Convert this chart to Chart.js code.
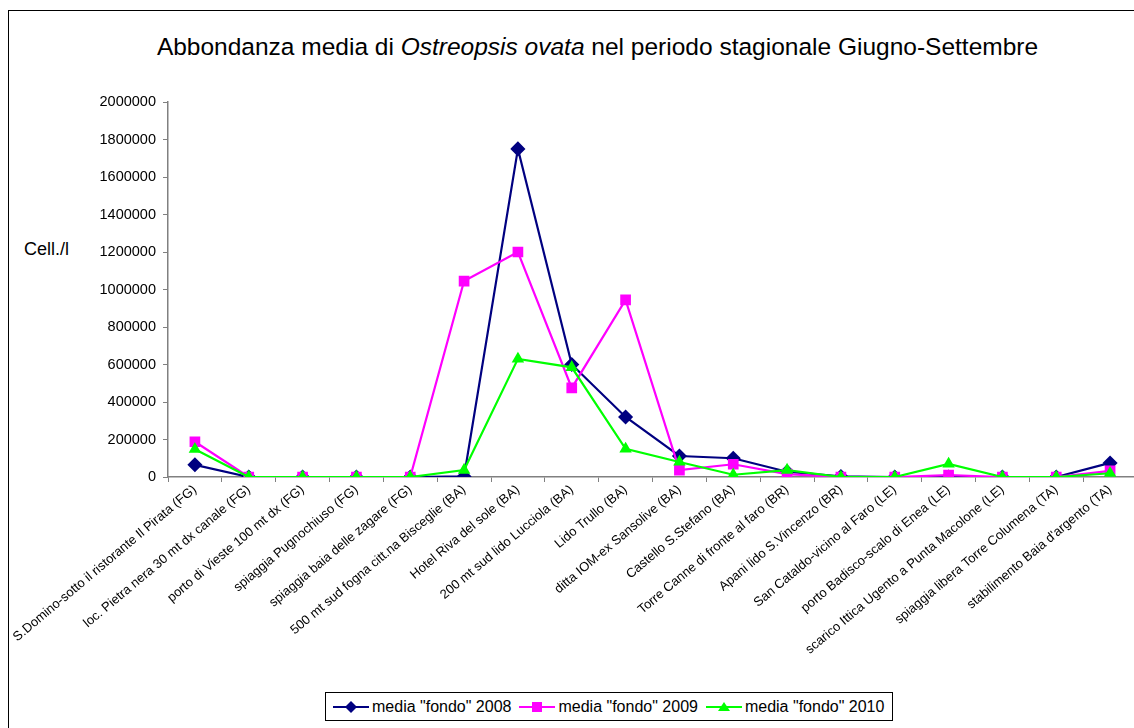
<!DOCTYPE html>
<html>
<head>
<meta charset="utf-8">
<script src="https://cdn.jsdelivr.net/npm/chart.js@4/dist/chart.umd.min.js"></script>
<style>
  html, body { margin: 0; padding: 0; background: #fff; overflow: hidden; }
  body { width: 1134px; height: 728px; position: relative; font-family: "Liberation Sans", Arial, sans-serif; }
  #frame { position: absolute; left: 8px; top: 10px; width: 1200px; height: 800px; border: 1px solid #000; box-sizing: border-box; }
  #title { position: absolute; left: 0; top: 33px; width: 1195px; text-align: center; font-size: 24.5px; color: #000; white-space: nowrap; }
  #ylab { position: absolute; left: 24px; top: 239px; font-size: 18px; color: #000; }
  #wrap { position: absolute; left: 0; top: 0; width: 1150px; height: 728px; }
  #legend { position: absolute; left: 325px; top: 692px; height: 29px; border: 1px solid #000; box-sizing: border-box;
            display: flex; align-items: center; padding: 0 0 0 7px; font-size: 16px; background: #fff; white-space: nowrap; }
  .item { display: flex; align-items: center; margin-right: 8px; }
  .item svg { margin-right: 3px; }
</style>
</head>
<body>
<div id="frame"></div>
<div id="title">Abbondanza media di <i>Ostreopsis ovata</i> nel periodo stagionale Giugno-Settembre</div>
<div id="ylab">Cell./l</div>
<div id="wrap"><canvas id="chart"></canvas></div>
<div id="legend"></div>
<script>
const stations = [
    'S.Domino-sotto il ristorante Il Pirata (FG)',
    'loc. Pietra nera 30 mt dx canale (FG)',
    'porto di Vieste 100 mt dx (FG)',
    'spiaggia Pugnochiuso (FG)',
    'spiaggia baia delle zagare (FG)',
    '500 mt sud fogna citt.na Bisceglie (BA)',
    'Hotel Riva del sole (BA)',
    '200 mt sud lido Lucciola (BA)',
    'Lido Trullo (BA)',
    'ditta IOM-ex Sansolive (BA)',
    'Castello S.Stefano (BA)',
    'Torre Canne di fronte al faro (BR)',
    'Apani lido S.Vincenzo (BR)',
    'San Cataldo-vicino al Faro (LE)',
    'porto Badisco-scalo di Enea (LE)',
    'scarico Ittica Ugento a Punta Macolone (LE)',
    'spiaggia libera Torre Columena (TA)',
    "stabilimento Baia d'argento (TA)"
];

const fondo2008 = [65000, 0, 0, 0, 0, 3000, 1750000, 600000, 320000, 112000, 100000, 28000, 3000, 0, 0, 0, 0, 75000];
const fondo2009 = [188000, 0, 0, 0, 0, 1045000, 1200000, 475000, 945000, 37000, 68000, 15000, 0, 0, 10000, 0, 0, 33000];
const fondo2010 = [148000, 0, 0, 0, 0, 37000, 630000, 585000, 150000, 80000, 12000, 37000, 0, 0, 70000, 0, 0, 20000];

const yTicks = [0, 200000, 400000, 600000, 800000, 1000000, 1200000, 1400000, 1600000, 1800000, 2000000];

const series = [
    { label: 'media "fondo" 2008', data: fondo2008, color: '#000080', style: 'rectRot', radius: 6, order: 2 },
    { label: 'media "fondo" 2009', data: fondo2009, color: '#FF00FF', style: 'rect', radius: 6, order: 1 },
    { label: 'media "fondo" 2010', data: fondo2010, color: '#00FF00', style: 'triangle', radius: 5, order: 0 }
];

const axisColor = '#808080';
const font = { family: '"Liberation Sans", Arial, sans-serif' };

const ctx = document.getElementById('chart').getContext('2d');
new Chart(ctx, {
    type: 'line',
    data: {
        labels: stations,
        datasets: series.map(s => ({
            label: s.label,
            data: s.data,
            borderColor: s.color,
            backgroundColor: s.color,
            pointBackgroundColor: s.color,
            pointBorderColor: s.color,
            pointStyle: s.style,
            pointRadius: s.radius,
            borderWidth: 2.2,
            tension: 0,
            order: s.order
        }))
    },
    options: {
        responsive: true,
        maintainAspectRatio: false,
        animation: false,
        layout: { padding: { top: 102, right: 13, bottom: 46, left: 0 } },
        plugins: {
            legend: { display: false },
            tooltip: { enabled: false }
        },
        scales: {
            x: {
                offset: true,
                grid: { offset: true, drawOnChartArea: false, color: axisColor, tickLength: 5 },
                border: { color: axisColor, width: 1.5 },
                ticks: {
                    color: '#000',
                    font: { ...font, size: 13 },
                    maxRotation: 40,
                    minRotation: 40,
                    autoSkip: false,
                    padding: 0
                },
                afterFit: scale => { scale.height = 205; }
            },
            y: {
                min: 0,
                max: 2000000,
                afterBuildTicks: scale => { scale.ticks = yTicks.map(v => ({ value: v })); },
                grid: { drawOnChartArea: false, color: axisColor, tickLength: 5 },
                border: { color: axisColor, width: 1.5 },
                ticks: {
                    color: '#000',
                    font: { ...font, size: 14.5 },
                    padding: 7,
                    callback: v => String(v)
                },
                afterFit: scale => { scale.width = 168; }
            }
        }
    }
});

// legend built from the same series
const legend = document.getElementById('legend');
series.forEach(s => {
    let marker = '';
    if (s.style === 'rectRot') marker = `<polygon points="18,1 24,7 18,13 12,7" fill="${s.color}"/>`;
    else if (s.style === 'rect') marker = `<rect x="13" y="2" width="10" height="10" fill="${s.color}"/>`;
    else marker = `<polygon points="18,2 24,11 12,11" fill="${s.color}"/>`;
    const el = document.createElement('div');
    el.className = 'item';
    el.innerHTML = `<svg width="36" height="14"><line x1="0" y1="7" x2="36" y2="7" stroke="${s.color}" stroke-width="2.2"/>${marker}</svg><span>${s.label.replace(/"/g, '&quot;')}</span>`;
    legend.appendChild(el);
});
</script>
</body>
</html>
